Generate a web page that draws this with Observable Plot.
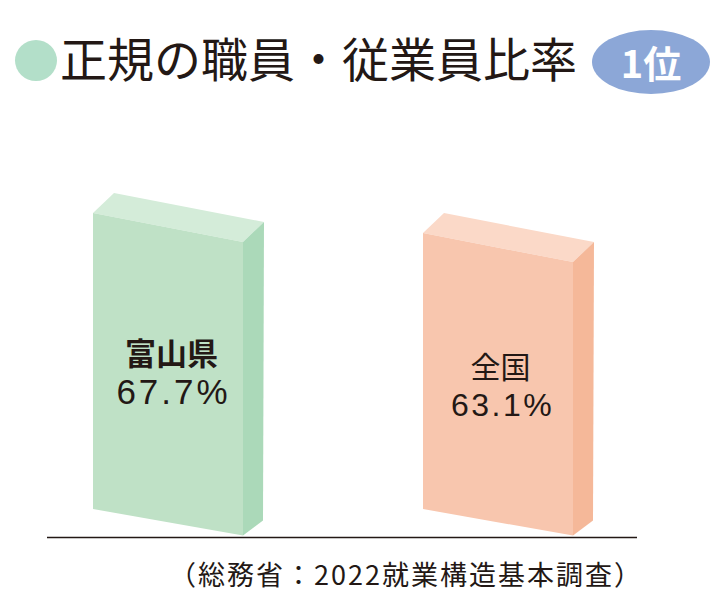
<!DOCTYPE html>
<html>
<head>
<meta charset="utf-8">
<script src="https://cdn.jsdelivr.net/npm/d3@7"></script>
<script src="https://cdn.jsdelivr.net/npm/@observablehq/plot@0.6"></script>
<style>
  body { margin: 0; background: #fff; font-family: "Noto Sans CJK JP", sans-serif; color: #231815; }
  #page { position: relative; width: 724px; height: 600px; overflow: hidden; }
  #head { position: relative; height: 120px; }
  .dot { position: absolute; left: 15px; top: 40px; width: 42px; height: 41px; border-radius: 50%; background: #b3dfc9; }
  .title { position: absolute; left: 60px; top: 33px; font-size: 47px; line-height: 47px; white-space: nowrap; }
  .badge { position: absolute; left: 592px; top: 30px; width: 118px; height: 64px; border-radius: 50%; background: #8ca7d7;
           color: #fff; font-weight: 700; font-size: 38px; line-height: 64px; text-align: center; white-space: nowrap; }
  #chart svg { display: block; }
  .caption { position: absolute; left: 169px; top: 560px; font-size: 27px; line-height: 27px; letter-spacing: 2px; white-space: nowrap; }
</style>
</head>
<body>
<div id="page">
  <div id="head">
    <div class="dot"></div>
    <div class="title">正規の職員・従業員比率</div>
    <div class="badge">1位</div>
  </div>
  <div id="chart"></div>
  <div class="caption">（総務省：2022就業構造基本調査）</div>
</div>
<script>
// ---- data ----
const categories = ["富山県", "全国"];
const rates = [67.7, 63.1];
const rateLabels = ["67.7%", "63.1%"];

// ---- styles ----
const faceColors = {
  "富山県": { front: "#bfe1c6", top: "#d4ecd9", side: "#abd9b9" },
  "全国":   { front: "#f8c6ae", top: "#fbd9c8", side: "#f5b899" }
};
const LABEL_FONT = "'Liberation Sans', 'Noto Sans CJK JP', sans-serif";
const TOP_SLOPE = 0.193, BOTTOM_SLOPE = 0.177;
const DEPTH_TOP = [21, -20], DEPTH_BOTTOM = [20, -15];

const data = categories.map((name, i) => ({ name, value: rates[i], label: rateLabels[i] }));

function bar3d(index, scales, V) {
  const bw = scales.x.bandwidth();
  const g = d3.create("svg:g");
  const poly = (pts, fill) =>
    g.append("path").attr("d", "M" + pts.map(p => p.join(",")).join("L") + "Z").attr("fill", fill);
  for (const i of index) {
    const xL = V.x[i], xR = xL + bw;
    const yT = V.y2[i], yB = V.y1[i];
    const yTR = yT + TOP_SLOPE * bw, yBR = yB + BOTTOM_SLOPE * bw;
    const c = faceColors[data[i].name];
    poly([[xL, yT], [xL + DEPTH_TOP[0], yT + DEPTH_TOP[1]], [xR + DEPTH_TOP[0], yTR + DEPTH_TOP[1]], [xR, yTR]], c.top);
    poly([[xR, yTR], [xR + DEPTH_TOP[0], yTR + DEPTH_TOP[1]], [xR + DEPTH_BOTTOM[0], yBR + DEPTH_BOTTOM[1]], [xR, yBR]], c.side);
    poly([[xL, yT], [xR, yTR], [xR, yBR], [xL, yB]], c.front);
  }
  return g.node();
}

const spaced = ls => (index, scales, V, dims, ctx, next) => {
  const g = next(index, scales, V, dims, ctx);
  g.setAttribute("letter-spacing", ls);
  return g;
};

const isToyama = d => d.name === "富山県";
const notToyama = d => !isToyama(d);
const mid = d => d.value / 2;

const chart = Plot.plot({
  width: 724,
  height: 430,
  marginLeft: 47, marginRight: 87, marginTop: 0, marginBottom: 0,
  style: { fontFamily: LABEL_FONT, color: "#231815", background: "transparent" },
  x: { domain: categories, range: [92, 573], paddingInner: 0.5468, paddingOuter: 0, axis: null },
  y: { domain: [0, 80], range: [389, 39.2], axis: null },
  marks: [
    Plot.barY(data, { x: "name", y: "value", render: bar3d }),
    Plot.ruleY([0], { dy: 28, stroke: "#231815", strokeWidth: 1.4 }),
    Plot.text(data, { filter: isToyama, x: "name", y: mid, text: "name", lineAnchor: "bottom", dx: 3, dy: 4,
                      fontFamily: LABEL_FONT, fontSize: 31, fontWeight: 700, fill: "#231815" }),
    Plot.text(data, { filter: notToyama, x: "name", y: mid, text: "name", lineAnchor: "bottom", dx: 2, dy: 6,
                      fontFamily: LABEL_FONT, fontSize: 30, fontWeight: 400, fill: "#231815" }),
    Plot.text(data, { filter: isToyama, x: "name", y: mid, text: "label", lineAnchor: "bottom", dx: 5, dy: 43,
                      fontFamily: LABEL_FONT, fontSize: 35, fontWeight: 400, fill: "#231815", render: spaced(3) }),
    Plot.text(data, { filter: notToyama, x: "name", y: mid, text: "label", lineAnchor: "bottom", dx: 4, dy: 44,
                      fontFamily: LABEL_FONT, fontSize: 32, fontWeight: 400, fill: "#231815", render: spaced(2.5) })
  ]
});
document.getElementById("chart").appendChild(chart);
</script>
</body>
</html>
